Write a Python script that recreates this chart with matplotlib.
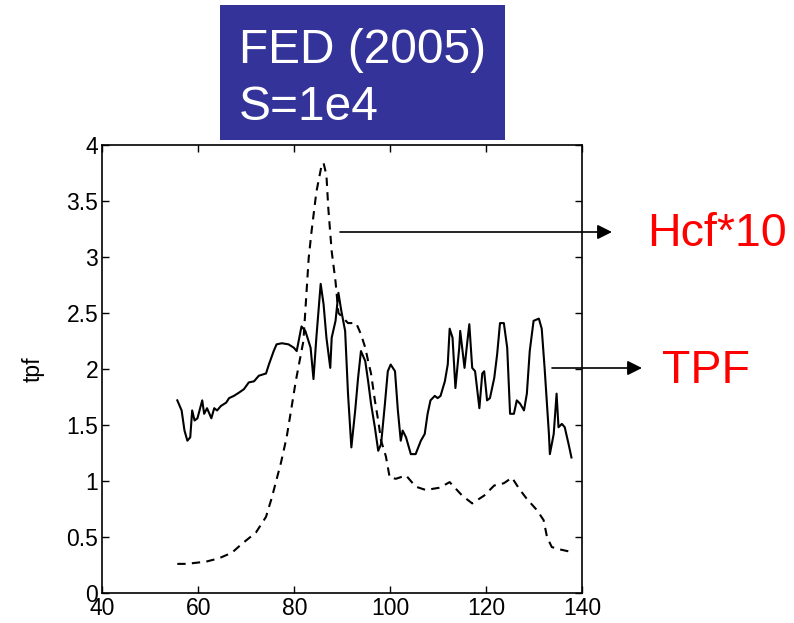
import matplotlib.pyplot as plt
from matplotlib.patches import Rectangle

plt.rcParams['font.family'] = ['Liberation Sans', 'DejaVu Sans']

# Hcf*10 (dashed curve)
hcf_x = [55.6, 57.5, 61.6, 64.3, 67.0, 69.1, 72.0, 74.1, 75.3, 77.2, 78.4, 79.4,
         80.3, 81.9, 83.0, 83.6, 84.6, 85.7, 86.1, 86.7, 87.1, 87.8, 88.6, 89.2,
         91.2, 92.9, 93.9, 94.8, 95.4, 96.0, 96.8, 97.5, 98.1, 99.1, 99.9, 101.2,
         103.3, 105.3, 107.4, 110.3, 112.4, 115.0, 117.1, 119.6, 121.7, 123.7,
         125.4, 126.9, 128.5, 130.6, 132.0, 132.7, 133.7, 135.3, 137.4]
hcf_y = [0.26, 0.26, 0.28, 0.31, 0.36, 0.44, 0.54, 0.68, 0.85, 1.16, 1.39, 1.65,
         1.89, 2.25, 2.99, 3.23, 3.58, 3.82, 3.84, 3.73, 3.43, 3.05, 2.78, 2.50,
         2.41, 2.41, 2.31, 2.19, 2.07, 1.96, 1.72, 1.54, 1.36, 1.22, 1.03, 1.02,
         1.05, 0.95, 0.92, 0.94, 0.99, 0.87, 0.80, 0.87, 0.96, 0.98,
         1.03, 0.93, 0.84, 0.74, 0.65, 0.50, 0.41, 0.39, 0.37]

# TPF (solid curve)
tpf_x = [55.6, 56.5, 57.1, 57.7, 58.3, 58.7, 59.2, 59.8, 60.8, 61.2, 61.8, 62.7,
         63.3, 63.9, 64.7, 65.8, 66.4, 67.4, 68.5, 69.5, 70.5, 71.6, 72.6, 74.1,
         74.7, 75.7, 76.3, 77.4, 78.8, 79.9, 80.5, 81.5, 82.3, 83.4, 84.0, 84.6,
         85.5, 86.1, 86.7, 87.5, 87.8, 88.6, 89.2, 89.8, 90.6, 91.2, 91.9, 92.7,
         93.3, 93.9, 94.8, 95.4, 96.0, 96.8, 97.5, 98.1, 98.9, 99.5, 100.1, 101.0,
         101.6, 102.2, 102.6, 103.3, 104.3, 105.3, 106.4, 107.2, 107.8, 108.4,
         109.3, 109.9, 110.5, 111.4, 112.0, 112.4, 113.0, 113.6, 114.4, 114.6,
         115.5, 116.1, 116.5, 117.1, 117.7, 118.6, 119.2, 119.6, 120.2, 120.8,
         121.7, 122.3, 122.9, 123.7, 124.4, 125.0, 125.8, 126.4, 127.1, 127.9,
         128.5, 129.1, 129.9, 131.0, 131.6, 132.2, 133.1, 133.3, 134.1, 134.7,
         135.1, 135.8, 136.4, 137.2, 137.8]
tpf_y = [1.72, 1.63, 1.45, 1.36, 1.39, 1.63, 1.54, 1.56, 1.72, 1.60, 1.65, 1.56,
         1.65, 1.63, 1.67, 1.70, 1.74, 1.76, 1.79, 1.82, 1.88, 1.89, 1.94, 1.96,
         2.04, 2.16, 2.22, 2.23, 2.22, 2.19, 2.16, 2.38, 2.34, 2.19, 1.91, 2.28,
         2.76, 2.58, 2.28, 2.01, 2.28, 2.43, 2.68, 2.52, 2.34, 1.78, 1.30, 1.63,
         1.92, 2.16, 2.07, 1.89, 1.69, 1.48, 1.27, 1.33, 1.69, 1.98, 2.04, 1.98,
         1.63, 1.36, 1.45, 1.39, 1.24, 1.24, 1.36, 1.42, 1.60, 1.72,
         1.76, 1.74, 1.76, 1.89, 2.04, 2.36, 2.28, 1.83, 2.19, 2.34,
         2.01, 2.25, 2.40, 2.01, 1.98, 1.65, 1.96, 1.98, 1.72, 1.74,
         1.92, 2.13, 2.41, 2.41, 2.19, 1.60, 1.60, 1.72, 1.69, 1.63,
         1.78, 2.16, 2.43, 2.45, 2.36, 2.01, 1.42, 1.24, 1.42, 1.78,
         1.48, 1.51, 1.48, 1.33, 1.21]

xticks = [40, 60, 80, 100, 120, 140]
yticks = [0, 0.5, 1, 1.5, 2, 2.5, 3, 3.5, 4]
ytick_labels = ['0', '0.5', '1', '1.5', '2', '2.5', '3', '3.5', '4']

W, H = 794, 623
fig = plt.figure(figsize=(W / 100, H / 100), dpi=100)
ax = fig.add_axes([102.5 / W, 30 / H, 479.5 / W, 448 / H])

ax.plot(hcf_x, hcf_y, color='black', lw=1.5, ls=(0, (4, 3)))
ax.plot(tpf_x, tpf_y, color='black', lw=1.5)

ax.set_xlim(40, 140)
ax.set_ylim(0, 4)
ax.set_xticks(xticks)
ax.set_yticks(yticks)
ax.set_yticklabels(ytick_labels)
ax.tick_params(direction='in', top=True, right=True, length=5, width=1,
               labelsize=16.5, pad=3)
for s in ax.spines.values():
    s.set_linewidth(1.2)
ax.set_ylabel('tpf', fontsize=16.5, labelpad=16)

# title box
fig.patches.append(Rectangle((220 / W, 1 - 140 / H), 285 / W, 135 / H,
                             transform=fig.transFigure, facecolor='#333399',
                             edgecolor='none', zorder=5))
fig.text(239 / W, 1 - 63 / H, 'FED (2005)', color='white', fontsize=34.5,
         va='baseline', zorder=6)
fig.text(239 / W, 1 - 120 / H, 'S=1e4', color='white', fontsize=34.5,
         va='baseline', zorder=6)

# arrows and labels
arrow = dict(arrowstyle='-|>', mutation_scale=22, color='black', lw=1.2,
             shrinkA=0, shrinkB=0)
ax.annotate('', xy=(612, H - 232), xytext=(340, H - 232),
            xycoords='figure pixels', textcoords='figure pixels',
            arrowprops=arrow, annotation_clip=False)
ax.annotate('', xy=(642, H - 368), xytext=(552, H - 368),
            xycoords='figure pixels', textcoords='figure pixels',
            arrowprops=arrow, annotation_clip=False)
fig.text(647 / W, 1 - 246 / H, 'Hcf*10', color='red', fontsize=33.5,
         va='baseline')
fig.text(662 / W, 1 - 383 / H, 'TPF', color='red', fontsize=33.5,
         va='baseline')

fig.savefig('out.png', dpi=100)
